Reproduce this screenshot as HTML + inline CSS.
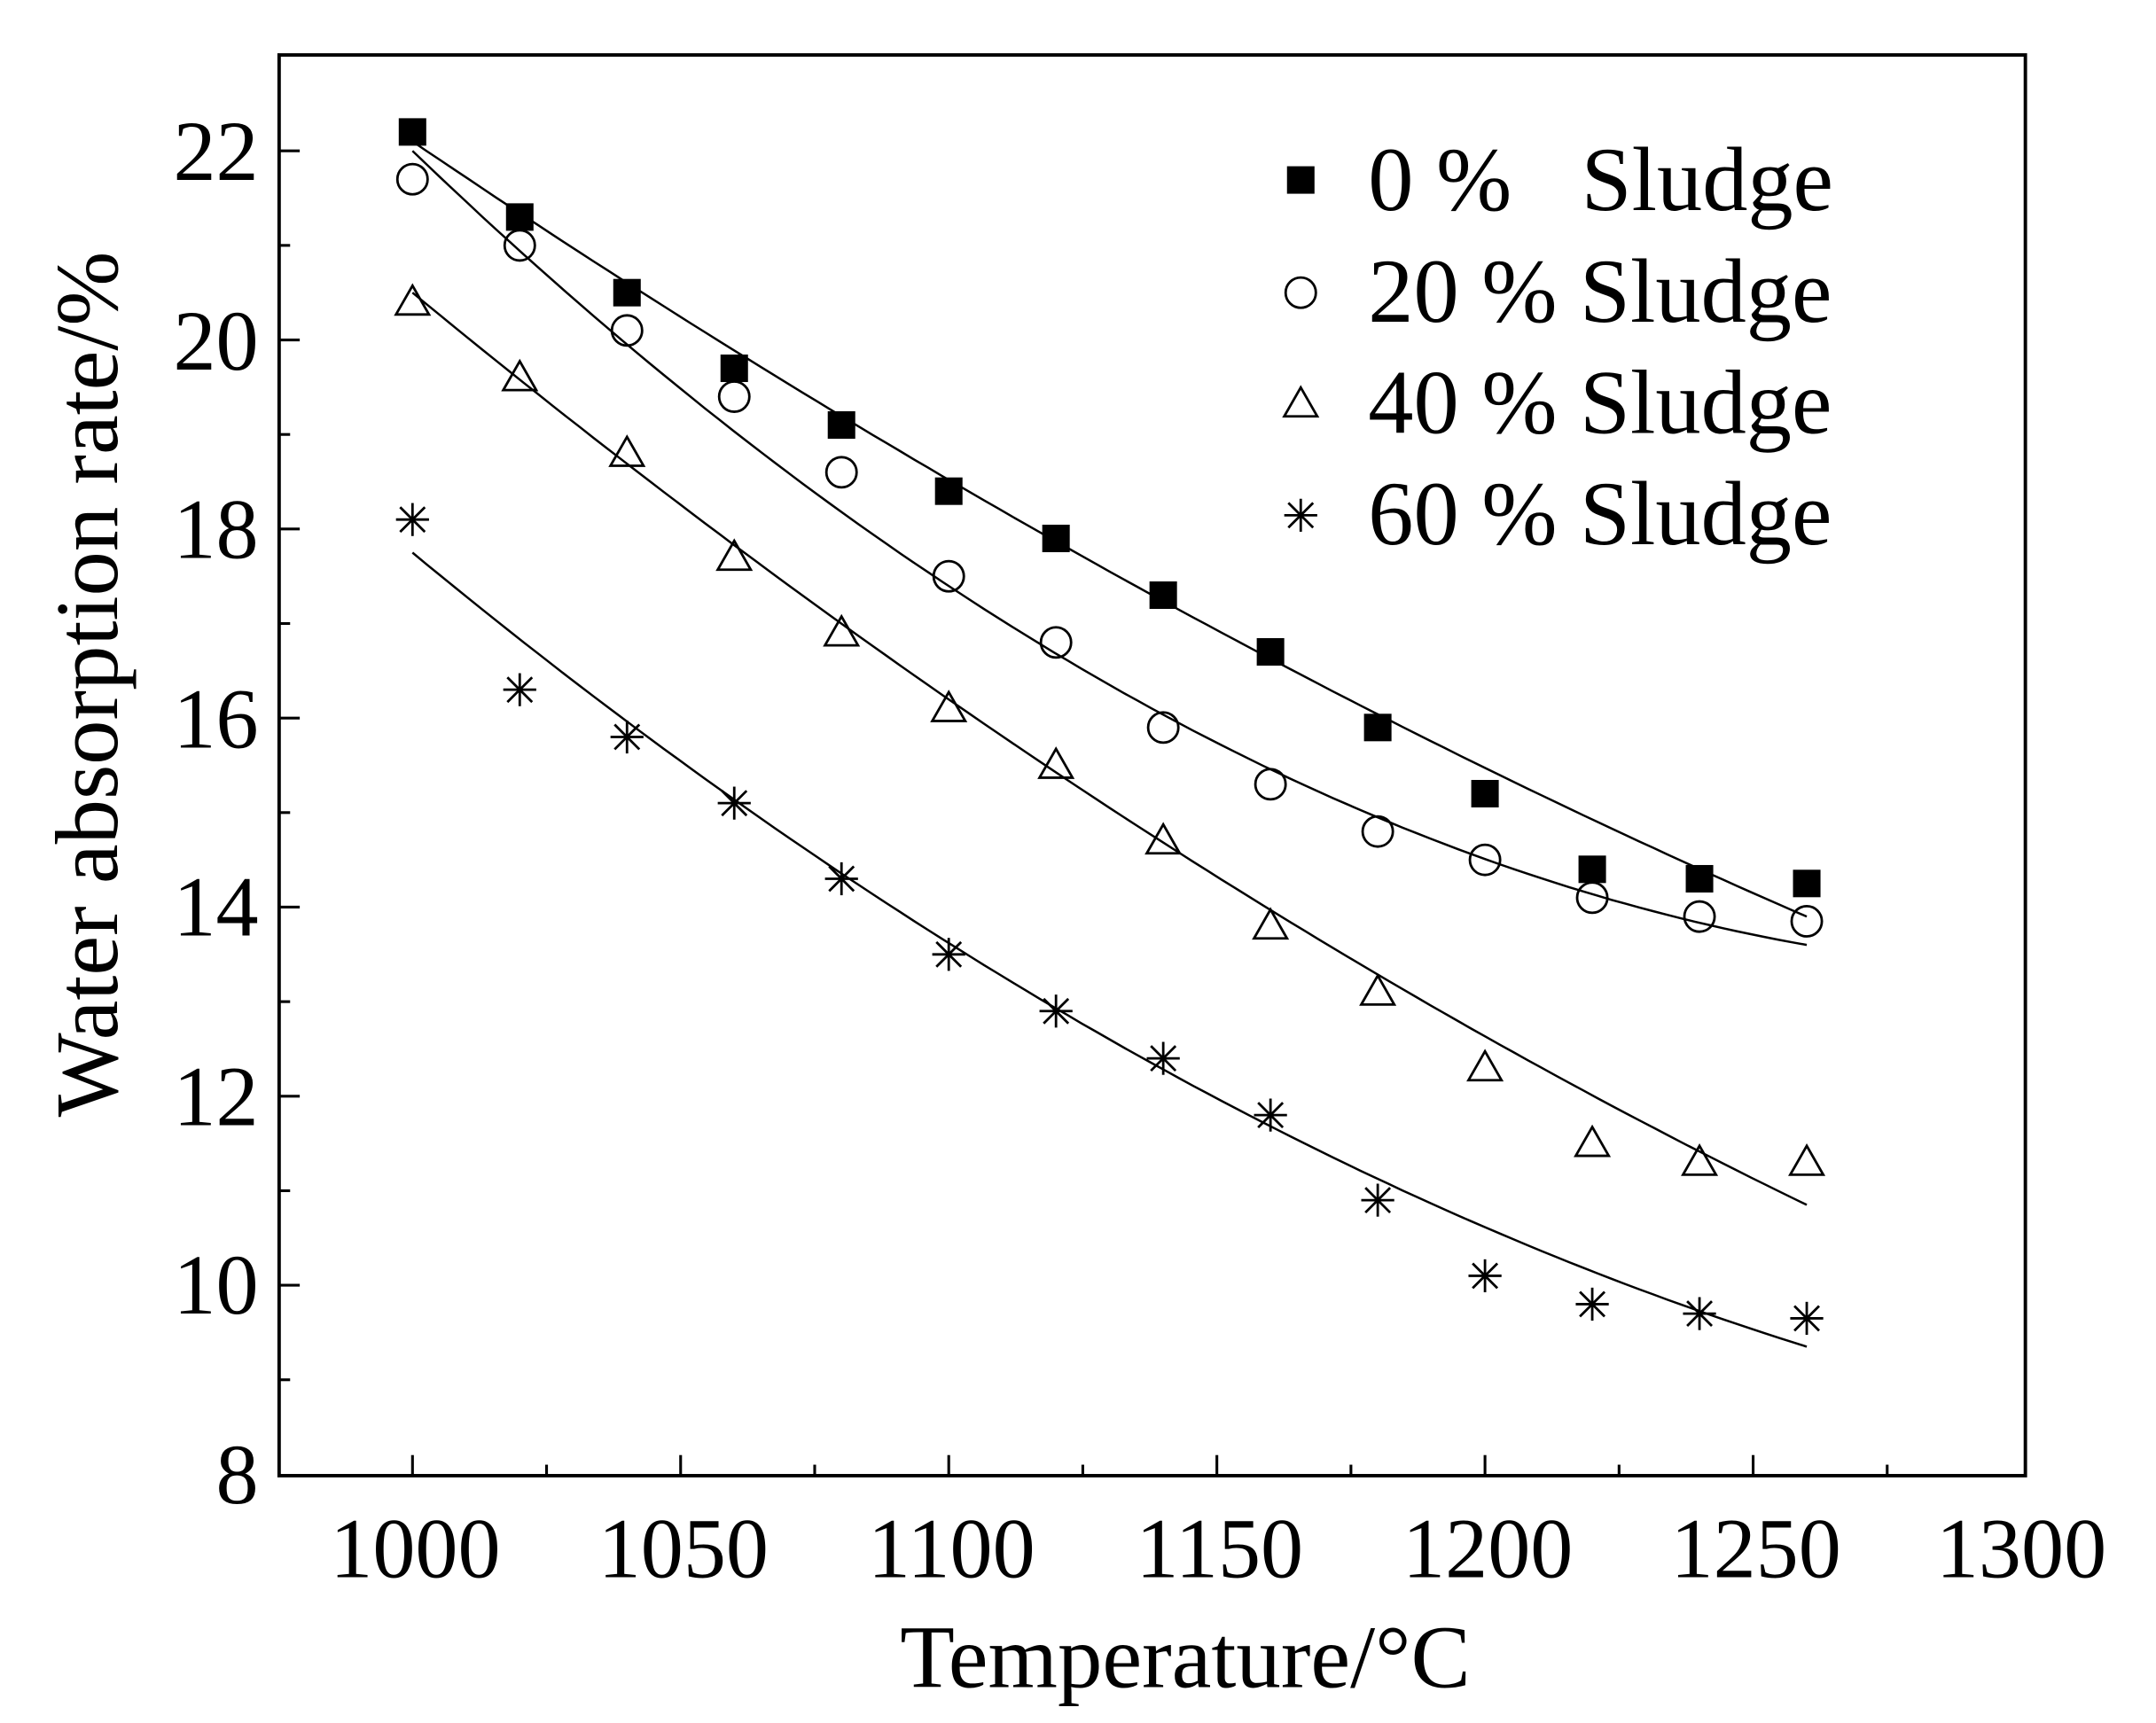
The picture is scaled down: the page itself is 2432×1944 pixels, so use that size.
<!DOCTYPE html>
<html><head><meta charset="utf-8"><style>html,body{margin:0;padding:0;background:#fff}svg{display:block}</style></head>
<body>
<svg id="s" width="2432" height="1944" viewBox="0 0 1568 1254" preserveAspectRatio="none" xmlns="http://www.w3.org/2000/svg" font-family="Liberation Serif, serif">
<rect x="0" y="0" width="1568" height="1254" fill="#fff"/>
<g id="g"></g>
<rect x="203" y="40" width="1270" height="1034" fill="none" stroke="#000" stroke-width="2.5"/>
<g font-size="62" text-anchor="middle">
<text x="302" y="1148">1000</text><text x="497" y="1148">1050</text><text x="692" y="1148">1100</text>
<text x="887" y="1148">1150</text><text x="1082" y="1148">1200</text><text x="1277" y="1148">1250</text><text x="1470" y="1148">1300</text>
</g>
<g font-size="62" text-anchor="end">
<text x="188" y="1094">8</text><text x="188" y="956">10</text><text x="188" y="819">12</text><text x="188" y="681">14</text>
<text x="188" y="544">16</text><text x="188" y="406">18</text><text x="188" y="269">20</text><text x="188" y="131">22</text>
</g>
<text x="862" y="1228" font-size="65" text-anchor="middle">Temperature/°C</text>
<text transform="translate(85,498) rotate(-90)" font-size="65" text-anchor="middle">Water absorption rate/%</text>
<g font-size="66">
<rect x="936" y="121" width="20" height="20" fill="#000"/><text x="995" y="153">0 %</text><text x="1150" y="153">Sludge</text>
<circle cx="946" cy="213" r="11" fill="none" stroke="#000" stroke-width="1.8"/><text x="995" y="234">20 % Sludge</text>
<polygon points="946,282 934,303 958,303" fill="none" stroke="#000" stroke-width="1.8"/><text x="995" y="315">40 % Sludge</text>
<g stroke="#000" stroke-width="1.8"><line x1="934" y1="375" x2="958" y2="375"/><line x1="946" y1="363" x2="946" y2="387"/><line x1="937" y1="366" x2="955" y2="384"/><line x1="955" y1="366" x2="937" y2="384"/></g><text x="995" y="396">60 % Sludge</text>
</g>
</svg>
<script>
var g=document.getElementById('g'),h='';
function X(t){return 300+(t-1000)*3.9}function Y(v){return 1073-(v-8)*68.8}
for(var t=1000;t<=1275;t+=25)h+='<line x1="'+X(t)+'" y1="1074" x2="'+X(t)+'" y2="'+(t%50?1066:1059)+'" stroke="#000" stroke-width="2"/>';
for(var v=9;v<=22;v++)h+='<line x1="203" y1="'+Y(v)+'" x2="'+(v%2?211:218)+'" y2="'+Y(v)+'" stroke="#000" stroke-width="2"/>';
var D=[[22.2,21.3,20.5,19.7,19.1,18.4,17.9,17.3,16.7,15.9,15.2,14.4,14.3,14.25],
[21.7,21.0,20.1,19.4,18.6,17.5,16.8,15.9,15.3,14.8,14.5,14.1,13.9,13.85],
[20.4,19.6,18.8,17.7,16.9,16.1,15.5,14.7,13.8,13.1,12.3,11.5,11.3,11.3],
[18.1,16.3,15.8,15.1,14.3,13.5,12.9,12.4,11.8,10.9,10.1,9.8,9.7,9.65]];
var F=[[22.1,17.55,13.9],[22.0,16.35,13.6],[20.5,15.05,10.85],[17.75,12.6,9.35]];
F.forEach(function(f){var a=f[0],m=f[1],b=f[2],p='';for(var i=0;i<=100;i++){var s=i/100,y=a+(4*m-3*a-b)*s+(2*a+2*b-4*m)*s*s;p+=(i?'L':'M')+X(1000+260*s).toFixed(1)+','+Y(y).toFixed(1)}h+='<path d="'+p+'" fill="none" stroke="#000" stroke-width="1.6"/>'});
D.forEach(function(d,k){d.forEach(function(v,i){var x=X(1000+20*i),y=Y(v);
if(k==0)h+='<rect x="'+(x-10)+'" y="'+(y-10)+'" width="20" height="20" fill="#000"/>';
else if(k==1)h+='<circle cx="'+x+'" cy="'+y+'" r="11" fill="none" stroke="#000" stroke-width="1.8"/>';
else if(k==2)h+='<polygon points="'+x+','+(y-12)+' '+(x-12)+','+(y+9)+' '+(x+12)+','+(y+9)+'" fill="none" stroke="#000" stroke-width="1.8"/>';
else h+='<g stroke="#000" stroke-width="1.8"><line x1="'+(x-12)+'" y1="'+y+'" x2="'+(x+12)+'" y2="'+y+'"/><line x1="'+x+'" y1="'+(y-12)+'" x2="'+x+'" y2="'+(y+12)+'"/><line x1="'+(x-9)+'" y1="'+(y-9)+'" x2="'+(x+9)+'" y2="'+(y+9)+'"/><line x1="'+(x+9)+'" y1="'+(y-9)+'" x2="'+(x-9)+'" y2="'+(y+9)+'"/></g>';})});
g.innerHTML=h;
</script>
</body></html>
